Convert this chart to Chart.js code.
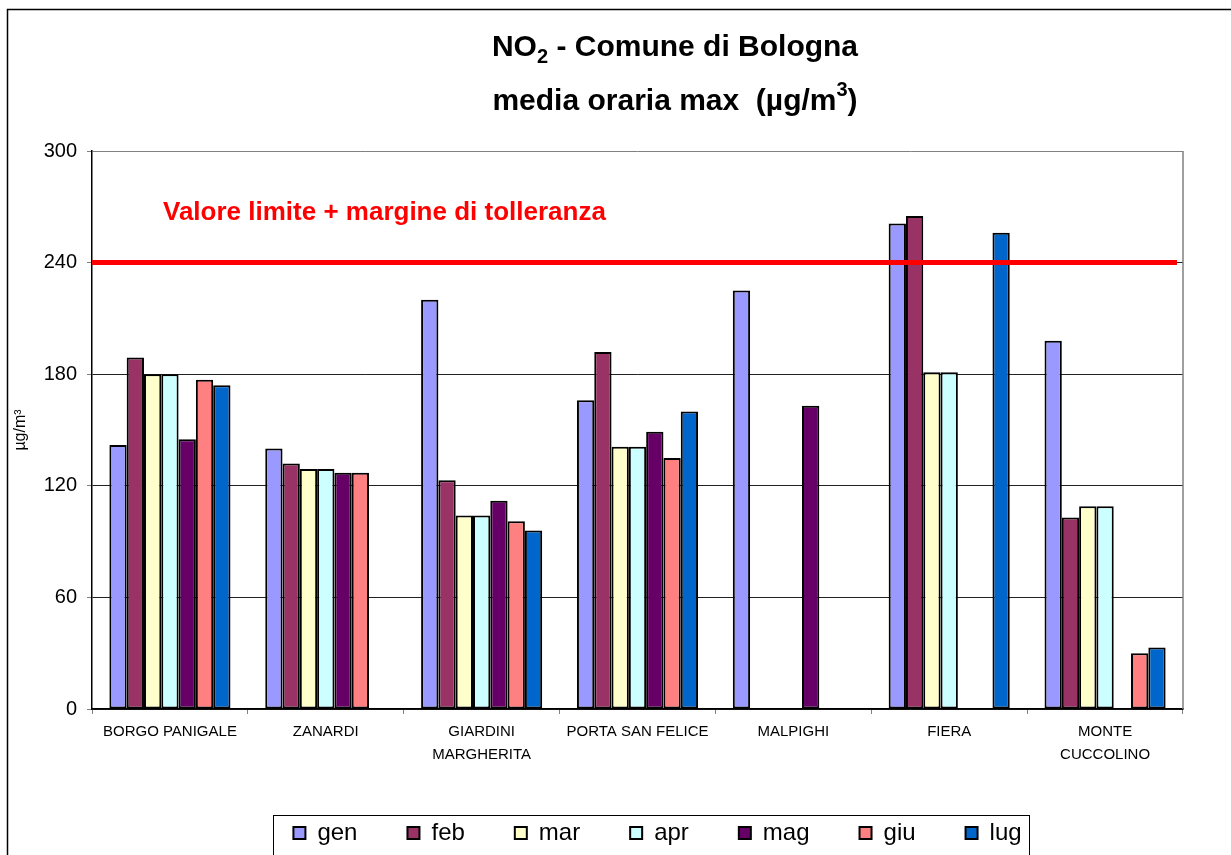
<!DOCTYPE html>
<html>
<head>
<meta charset="utf-8">
<script src="https://cdn.jsdelivr.net/npm/chart.js@4"></script>
<style>
html, body { margin: 0; padding: 0; background: #fff; }
</style>
</head>
<body>
<canvas id="chart" width="1231" height="855"></canvas>
<script>
const stations = ['BORGO PANIGALE', 'ZANARDI', ['GIARDINI', 'MARGHERITA'], 'PORTA SAN FELICE', 'MALPIGHI', 'FIERA', ['MONTE', 'CUCCOLINO']];
const months = ['gen', 'feb', 'mar', 'apr', 'mag', 'giu', 'lug'];
const gen = [142, 140, 220, 166, 225, 261, 198];
const feb = [189, 132, 123, 192, null, 265, 103];
const mar = [180, 129, 104, 141, null, 181, 109];
const apr = [180, 129, 104, 141, null, 181, 109];
const mag = [145, 127, 112, 149, 163, null, null];
const giu = [177, 127, 101, 135, null, null, 30];
const lug = [174, null, 96, 160, null, 256, 33];
const monthColors = ['#9999FF', '#993366', '#FFFFCC', '#CCFFFF', '#660066', '#FF8080', '#0066CC'];
const limitValue = 240;
const limitLabel = 'Valore limite + margine di tolleranza';
const yMax = 300;
const yStep = 60;

Chart.defaults.font.family = '"Liberation Sans", Arial, sans-serif';
Chart.defaults.color = '#000';

const series = [gen, feb, mar, apr, mag, giu, lug];

// draws text made of pieces with different sizes / offsets (sub and superscripts)
function drawRich(ctx, parts, cx, baseline) {
    let total = 0;
    parts.forEach(p => {
        ctx.font = 'bold ' + p[1] + 'px "Liberation Sans", Arial, sans-serif';
        p.w = ctx.measureText(p[0]).width;
        total += p.w;
    });
    let x = cx - total / 2;
    ctx.textAlign = 'left';
    ctx.textBaseline = 'alphabetic';
    parts.forEach(p => {
        ctx.font = 'bold ' + p[1] + 'px "Liberation Sans", Arial, sans-serif';
        ctx.fillText(p[0], x, baseline + p[2]);
        x += p.w;
    });
}

const decor = {
    id: 'decor',
    afterLayout(chart) {
        const lg = chart.legend;
        const dx = 20;
        lg.left += dx;
        lg.right += dx;
        lg.legendHitBoxes.forEach(h => { h.left += dx; });
    },
    beforeDraw(chart) {
        const ctx = chart.ctx;
        ctx.save();
        ctx.fillStyle = '#fff';
        ctx.fillRect(0, 0, chart.width, chart.height);
        ctx.strokeStyle = '#000';
        ctx.lineWidth = 1.5;
        ctx.strokeRect(7.5, 9.5, chart.width + 20, chart.height + 20);
        ctx.restore();
    },
    afterDatasetsDraw(chart) {
        const ctx = chart.ctx;
        const area = chart.chartArea;
        const y = chart.scales.y.getPixelForValue(limitValue);
        ctx.save();
        ctx.strokeStyle = '#FF0000';
        ctx.lineWidth = 5;
        ctx.beginPath();
        ctx.moveTo(area.left, y);
        ctx.lineTo(area.right - 6, y);
        ctx.stroke();
        ctx.fillStyle = '#FF0000';
        ctx.font = 'bold 26px "Liberation Sans", Arial, sans-serif';
        ctx.textAlign = 'left';
        ctx.textBaseline = 'alphabetic';
        ctx.fillText(limitLabel, area.left + 71, y - 43);
        ctx.restore();
    },
    afterDraw(chart) {
        const ctx = chart.ctx;
        const area = chart.chartArea;
        ctx.save();
        // plot area right border
        ctx.strokeStyle = '#808080';
        ctx.lineWidth = 1.5;
        ctx.beginPath();
        ctx.moveTo(area.right, area.top);
        ctx.lineTo(area.right, area.bottom);
        ctx.stroke();
        // title
        ctx.fillStyle = '#000';
        drawRich(ctx, [['NO', 30, 0], ['2', 20, 7], [' - Comune di Bologna', 30, 0]], 675, 56);
        drawRich(ctx, [['media oraria max  (\u00b5g/m', 30, 0], ['3', 20, -14], [')', 30, 0]], 675, 110);
        // legend frame
        const boxes = chart.legend.legendHitBoxes;
        const first = boxes[0];
        const last = boxes[boxes.length - 1];
        ctx.strokeStyle = '#000';
        ctx.lineWidth = 1;
        ctx.strokeRect(Math.round(first.left - 20) + 0.5, 815.5, Math.round(last.left + last.width - first.left + 28), 60);
        ctx.restore();
    }
};

const chart = new Chart(document.querySelector('#chart'), {
    type: 'bar',
    data: {
        labels: stations,
        datasets: months.map((m, i) => ({
            label: m,
            data: series[i],
            backgroundColor: monthColors[i],
            borderColor: '#000',
            borderWidth: 2,
            borderSkipped: false,
            categoryPercentage: 0.777,
            barPercentage: 1
        }))
    },
    options: {
        responsive: false,
        animation: false,
        layout: { padding: { top: 151, right: 48, left: 0, bottom: 0 } },
        plugins: {
            title: { display: false },
            tooltip: { enabled: false },
            legend: {
                position: 'bottom',
                fullSize: false,
                labels: {
                    font: { size: 24 },
                    color: '#000',
                    boxWidth: 12,
                    boxHeight: 12,
                    padding: 50
                }
            }
        },
        scales: {
            x: {
                grid: { offset: true, drawOnChartArea: false, tickLength: 5, color: '#808080' },
                border: { color: '#000', width: 1.5 },
                ticks: { font: { size: 15, lineHeight: 1.53 }, color: '#000', padding: 6, maxRotation: 0, autoSkip: false },
                afterFit(scale) { scale.height = 62; }
            },
            y: {
                min: 0,
                max: yMax,
                ticks: { stepSize: yStep, font: { size: 20 }, color: '#000', padding: 10 },
                grid: {
                    color: (c) => c.tick && c.tick.value === yMax ? '#808080' : '#222',
                    lineWidth: 1,
                    tickLength: 5,
                    tickColor: '#808080'
                },
                border: { color: '#000', width: 1.5 },
                title: { display: true, text: '\u00b5g/m\u00b3', font: { size: 16 }, color: '#000', padding: { top: 11, bottom: 0 } },
                afterFit(scale) { scale.width = 92; }
            }
        }
    },
    plugins: [decor]
});
</script>
</body>
</html>
